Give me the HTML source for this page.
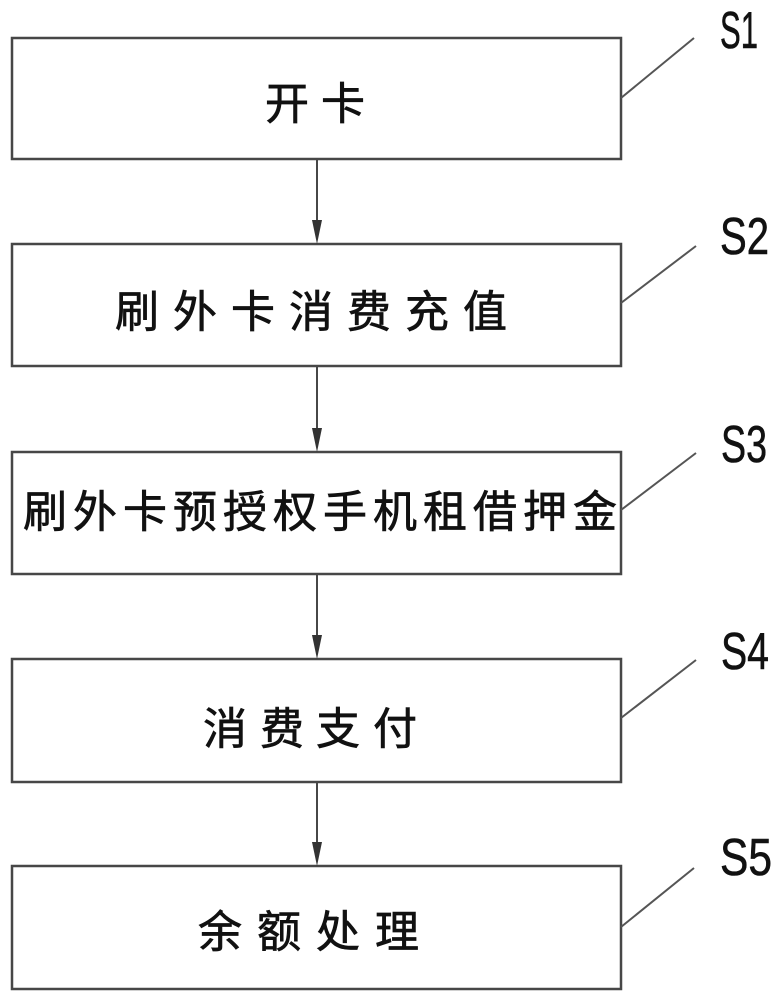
<!DOCTYPE html>
<html>
<head>
<meta charset="utf-8">
<style>
  html, body { margin: 0; padding: 0; background: #fff; }
  svg { display: block; }
  .cn { font-family: "Liberation Sans", "Noto Sans CJK SC", sans-serif; font-size: 44px; fill: #111; stroke: #111; stroke-width: 0.7px; }
  .lb { font-family: "Liberation Sans", sans-serif; font-size: 52px; fill: #111; stroke: #111; stroke-width: 0.6px; }
</style>
</head>
<body>
<svg width="782" height="1000" viewBox="0 0 782 1000" xmlns="http://www.w3.org/2000/svg">
  <g fill="none" stroke="#474747" stroke-width="2.5">
    <rect x="12" y="38" width="609" height="121"/>
    <rect x="12" y="244" width="609" height="122"/>
    <rect x="12" y="452" width="609" height="122"/>
    <rect x="12" y="659" width="609" height="123"/>
    <rect x="12" y="866" width="609" height="123"/>
  </g>
  <!-- connectors -->
  <g stroke="#474747" stroke-width="2">
    <line x1="317" y1="160" x2="317" y2="222"/>
    <line x1="317" y1="367" x2="317" y2="430"/>
    <line x1="317" y1="575" x2="317" y2="637"/>
    <line x1="317" y1="783" x2="317" y2="844"/>
  </g>
  <g fill="#333">
    <polygon points="312,220 322,220 317,244"/>
    <polygon points="312,428 322,428 317,452"/>
    <polygon points="312,635 322,635 317,659"/>
    <polygon points="312,842 322,842 317,866"/>
  </g>
  <!-- leader lines -->
  <g stroke="#555" stroke-width="2">
    <line x1="621" y1="98" x2="694" y2="38"/>
    <line x1="621" y1="303" x2="696" y2="246"/>
    <line x1="621" y1="510" x2="696" y2="453"/>
    <line x1="621" y1="718" x2="696" y2="660"/>
    <line x1="621" y1="927" x2="694" y2="868"/>
  </g>
  <!-- step labels -->
  <text class="lb" x="720" y="48" textLength="38" lengthAdjust="spacingAndGlyphs">S1</text>
  <text class="lb" x="720" y="254" textLength="49" lengthAdjust="spacingAndGlyphs">S2</text>
  <text class="lb" x="721" y="462" textLength="46" lengthAdjust="spacingAndGlyphs">S3</text>
  <text class="lb" x="721" y="669" textLength="48" lengthAdjust="spacingAndGlyphs">S4</text>
  <text class="lb" x="720" y="875" textLength="52" lengthAdjust="spacingAndGlyphs">S5</text>
  <!-- box texts -->
  <text class="cn" x="265 321" y="119">开卡</text>
  <text class="cn" x="115 173 231 289 347 405 463" y="327">刷外卡消费充值</text>
  <text class="cn" x="23 73 123 173 223 273 323 373 423 473 523 573" y="527">刷外卡预授权手机租借押金</text>
  <text class="cn" x="203 260 316 373" y="744">消费支付</text>
  <text class="cn" x="198 257 316 375" y="947">余额处理</text>
</svg>
</body>
</html>
